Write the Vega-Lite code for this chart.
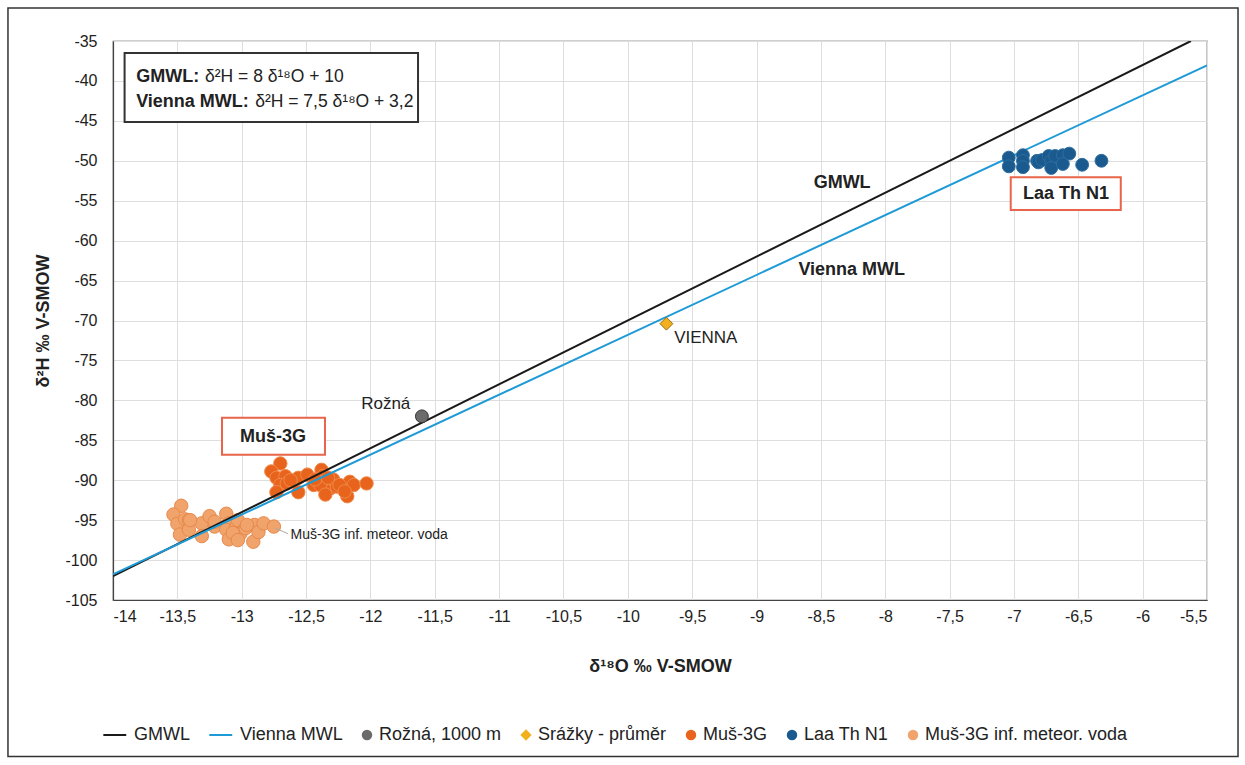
{
  "$schema": "https://vega.github.io/schema/vega-lite/v6.json",
  "width": 1094,
  "height": 559,
  "autosize": {"type": "none"},
  "padding": {"left": 113, "top": 41, "right": 38, "bottom": 165},
  "background": "white",
  "config": {
    "font": "Liberation Sans",
    "view": {"stroke": "#444", "strokeWidth": 1.2},
    "axis": {
      "grid": true, "gridColor": "#dedede", "gridWidth": 1,
      "domainColor": "#444", "domainWidth": 1.2, "ticks": false,
      "labelFont": "Liberation Sans", "labelFontSize": 16, "labelColor": "#222",
      "titleFont": "Liberation Sans", "titleFontSize": 18, "titleFontWeight": "bold", "titleColor": "#222"
    }
  },
  "datasets": {
    "pts": [
      {"series": "Muš-3G", "x": -12.70, "y": -87.9},
      {"series": "Muš-3G", "x": -12.77, "y": -88.9},
      {"series": "Muš-3G", "x": -12.73, "y": -89.7},
      {"series": "Muš-3G", "x": -12.66, "y": -89.5},
      {"series": "Muš-3G", "x": -12.70, "y": -90.6},
      {"series": "Muš-3G", "x": -12.73, "y": -91.5},
      {"series": "Muš-3G", "x": -12.65, "y": -90.4},
      {"series": "Muš-3G", "x": -12.56, "y": -89.7},
      {"series": "Muš-3G", "x": -12.56, "y": -91.5},
      {"series": "Muš-3G", "x": -12.49, "y": -89.3},
      {"series": "Muš-3G", "x": -12.44, "y": -90.6},
      {"series": "Muš-3G", "x": -12.38, "y": -88.7},
      {"series": "Muš-3G", "x": -12.37, "y": -89.5},
      {"series": "Muš-3G", "x": -12.34, "y": -90.4},
      {"series": "Muš-3G", "x": -12.31, "y": -91.0},
      {"series": "Muš-3G", "x": -12.29, "y": -89.9},
      {"series": "Muš-3G", "x": -12.26, "y": -90.8},
      {"series": "Muš-3G", "x": -12.18, "y": -92.0},
      {"series": "Muš-3G", "x": -12.16, "y": -90.2},
      {"series": "Muš-3G", "x": -12.13, "y": -90.6},
      {"series": "Muš-3G", "x": -12.03, "y": -90.4},
      {"series": "Muš-3G", "x": -12.39, "y": -90.6},
      {"series": "Muš-3G", "x": -12.43, "y": -89.9},
      {"series": "Muš-3G", "x": -12.24, "y": -90.6},
      {"series": "Muš-3G", "x": -12.33, "y": -89.7},
      {"series": "Muš-3G", "x": -12.35, "y": -91.8},
      {"series": "Muš-3G", "x": -12.20, "y": -91.4},
      {"series": "Muš-3G", "x": -12.62, "y": -90.0},
      {"series": "Muš-3G inf. meteor. voda", "x": -13.47, "y": -93.2},
      {"series": "Muš-3G inf. meteor. voda", "x": -13.53, "y": -94.3},
      {"series": "Muš-3G inf. meteor. voda", "x": -13.50, "y": -95.45},
      {"series": "Muš-3G inf. meteor. voda", "x": -13.48, "y": -96.8},
      {"series": "Muš-3G inf. meteor. voda", "x": -13.44, "y": -94.9},
      {"series": "Muš-3G inf. meteor. voda", "x": -13.41, "y": -95.0},
      {"series": "Muš-3G inf. meteor. voda", "x": -13.41, "y": -96.2},
      {"series": "Muš-3G inf. meteor. voda", "x": -13.31, "y": -95.4},
      {"series": "Muš-3G inf. meteor. voda", "x": -13.31, "y": -97.0},
      {"series": "Muš-3G inf. meteor. voda", "x": -13.25, "y": -94.5},
      {"series": "Muš-3G inf. meteor. voda", "x": -13.21, "y": -95.8},
      {"series": "Muš-3G inf. meteor. voda", "x": -13.21, "y": -95.2},
      {"series": "Muš-3G inf. meteor. voda", "x": -13.12, "y": -94.2},
      {"series": "Muš-3G inf. meteor. voda", "x": -13.10, "y": -95.4},
      {"series": "Muš-3G inf. meteor. voda", "x": -13.12, "y": -96.2},
      {"series": "Muš-3G inf. meteor. voda", "x": -13.10, "y": -97.4},
      {"series": "Muš-3G inf. meteor. voda", "x": -13.04, "y": -95.8},
      {"series": "Muš-3G inf. meteor. voda", "x": -13.03, "y": -95.0},
      {"series": "Muš-3G inf. meteor. voda", "x": -13.01, "y": -96.7},
      {"series": "Muš-3G inf. meteor. voda", "x": -12.97, "y": -96.0},
      {"series": "Muš-3G inf. meteor. voda", "x": -12.91, "y": -97.7},
      {"series": "Muš-3G inf. meteor. voda", "x": -12.90, "y": -95.6},
      {"series": "Muš-3G inf. meteor. voda", "x": -12.87, "y": -96.5},
      {"series": "Muš-3G inf. meteor. voda", "x": -12.83, "y": -95.4},
      {"series": "Muš-3G inf. meteor. voda", "x": -12.75, "y": -95.8},
      {"series": "Muš-3G inf. meteor. voda", "x": -13.40, "y": -95.0},
      {"series": "Muš-3G inf. meteor. voda", "x": -12.96, "y": -95.6},
      {"series": "Muš-3G inf. meteor. voda", "x": -13.07, "y": -96.6},
      {"series": "Muš-3G inf. meteor. voda", "x": -13.03, "y": -97.5}
    ],
    "pts2": [
      {"series": "Laa Th N1", "x": -7.04, "y": -49.6},
      {"series": "Laa Th N1", "x": -7.04, "y": -50.7},
      {"series": "Laa Th N1", "x": -6.93, "y": -49.3},
      {"series": "Laa Th N1", "x": -6.93, "y": -50.0},
      {"series": "Laa Th N1", "x": -6.93, "y": -50.8},
      {"series": "Laa Th N1", "x": -6.82, "y": -50.0},
      {"series": "Laa Th N1", "x": -6.81, "y": -50.2},
      {"series": "Laa Th N1", "x": -6.78, "y": -49.9},
      {"series": "Laa Th N1", "x": -6.73, "y": -49.4},
      {"series": "Laa Th N1", "x": -6.71, "y": -50.0},
      {"series": "Laa Th N1", "x": -6.71, "y": -50.9},
      {"series": "Laa Th N1", "x": -6.68, "y": -49.4},
      {"series": "Laa Th N1", "x": -6.62, "y": -49.3},
      {"series": "Laa Th N1", "x": -6.62, "y": -50.4},
      {"series": "Laa Th N1", "x": -6.57, "y": -49.1},
      {"series": "Laa Th N1", "x": -6.47, "y": -50.5},
      {"series": "Laa Th N1", "x": -6.32, "y": -50.0},
      {"series": "Rožná, 1000 m", "x": -11.6, "y": -82.0},
      {"series": "Srážky - průměr", "x": -9.7, "y": -70.4}
    ],
    "lines": [
      {"series": "GMWL", "x": -14, "y": -102},
      {"series": "GMWL", "x": -5.625, "y": -35},
      {"series": "Vienna MWL", "x": -14, "y": -101.8},
      {"series": "Vienna MWL", "x": -5.5, "y": -38.05}
    ],
    "boxes": [
      {"name": "eq", "x": -13.91, "x2": -11.63, "y": -36.5, "y2": -45.14, "stroke": "#333"},
      {"name": "mus", "x": -13.153, "x2": -12.353, "y": -82.18, "y2": -86.81, "stroke": "#e8644a"},
      {"name": "laa", "x": -7.025, "x2": -6.17, "y": -52.06, "y2": -56.15, "stroke": "#e8644a"}
    ]
  },
  "encoding": {
    "x": {"field": "x", "type": "quantitative",
      "scale": {"domain": [-14, -5.5], "nice": false, "zero": false},
      "axis": {"title": "δ¹⁸O ‰  V-SMOW", "values": [-14, -13.5, -13, -12.5, -12, -11.5, -11, -10.5, -10, -9.5, -9, -8.5, -8, -7.5, -7, -6.5, -6, -5.5],
        "labelExpr": "replace('' + datum.value, '.', ',')", "labelPadding": 8, "titlePadding": 33}},
    "y": {"field": "y", "type": "quantitative",
      "scale": {"domain": [-105, -35], "nice": false, "zero": false},
      "axis": {"title": "δ²H ‰  V-SMOW", "values": [-105, -100, -95, -90, -85, -80, -75, -70, -65, -60, -55, -50, -45, -40, -35],
        "labelExpr": "'' + datum.value", "labelPadding": 16, "titlePadding": 12}}
  },
  "layer": [
    {
      "data": {"values": [{"x": -14.816, "x2": -5.259, "y": -30.87, "y2": -124.6}]},
      "mark": {"type": "rect", "fill": null, "fillOpacity": 0, "stroke": "#333", "strokeWidth": 1.5, "clip": false},
      "encoding": {"x2": {"field": "x2"}, "y2": {"field": "y2"}}
    },
    {
      "data": {"name": "boxes"},
      "mark": {"type": "rect", "fill": "white", "strokeWidth": 2, "clip": false},
      "encoding": {
        "x2": {"field": "x2"},
        "y2": {"field": "y2"},
        "stroke": {"field": "stroke", "type": "nominal", "scale": null}
      }
    },
    {
      "data": {"name": "pts"},
      "mark": {"type": "point", "filled": true, "opacity": 1, "strokeWidth": 1},
      "encoding": {
        "color": {"field": "series", "type": "nominal",
          "scale": {"domain": ["GMWL", "Vienna MWL", "Rožná, 1000 m", "Srážky - průměr", "Muš-3G", "Laa Th N1", "Muš-3G inf. meteor. voda"],
            "range": ["#1a1a1a", "#1e9ad6", "#6b6b6b", "#f2b01e", "#e8641c", "#1b5a8e", "#f0a46c"]},
          "legend": {"title": null, "orient": "bottom", "direction": "horizontal", "offset": 51,
            "labelFont": "Liberation Sans", "labelFontSize": 18, "labelColor": "#222", "labelLimit": 0,
            "symbolSize": 72, "symbolStrokeWidth": 2, "labelOffset": 3, "columnPadding": 15,
            "encode": {"symbols": {"update": {
              "stroke": {"scale": "color", "field": "value"},
              "strokeWidth": {"value": 2}
            }}}}},
        "shape": {"field": "series", "type": "nominal",
          "scale": {"domain": ["GMWL", "Vienna MWL", "Rožná, 1000 m", "Srážky - průměr", "Muš-3G", "Laa Th N1", "Muš-3G inf. meteor. voda"],
            "range": ["M-4.4,0H1", "M-4.4,0H1", "circle", "diamond", "circle", "circle", "circle"]}},
        "stroke": {"field": "series", "type": "nominal", "legend": null,
          "scale": {"domain": ["Muš-3G", "Muš-3G inf. meteor. voda", "Laa Th N1", "Rožná, 1000 m", "Srážky - průměr"],
            "range": ["#f08a4a", "#e8884a", "#2c6ea0", "#333333", "#9a6a10"]}},
        "size": {"value": 180}
      }
    },
    {
      "data": {"values": [{"x": -12.74, "y": -96.0, "x2": -12.64, "y2": -96.7}]},
      "mark": {"type": "rule", "color": "#aaaaaa", "strokeWidth": 1},
      "encoding": {"x2": {"field": "x2"}, "y2": {"field": "y2"}}
    },
    {
      "data": {"name": "lines"},
      "mark": {"type": "line", "strokeWidth": 2, "clip": true},
      "encoding": {
        "color": {"field": "series", "type": "nominal",
          "scale": {"domain": ["GMWL", "Vienna MWL", "Rožná, 1000 m", "Srážky - průměr", "Muš-3G", "Laa Th N1", "Muš-3G inf. meteor. voda"],
            "range": ["#1a1a1a", "#1e9ad6", "#6b6b6b", "#f2b01e", "#e8641c", "#1b5a8e", "#f0a46c"]}},
        "detail": {"field": "series"}
      }
    },
    {
      "data": {"name": "pts2"},
      "mark": {"type": "point", "filled": true, "opacity": 1, "strokeWidth": 1},
      "encoding": {
        "color": {"field": "series", "type": "nominal",
          "scale": {"domain": ["GMWL", "Vienna MWL", "Rožná, 1000 m", "Srážky - průměr", "Muš-3G", "Laa Th N1", "Muš-3G inf. meteor. voda"],
            "range": ["#1a1a1a", "#1e9ad6", "#6b6b6b", "#f2b01e", "#e8641c", "#1b5a8e", "#f0a46c"]}},
        "shape": {"field": "series", "type": "nominal",
          "scale": {"domain": ["GMWL", "Vienna MWL", "Rožná, 1000 m", "Srážky - průměr", "Muš-3G", "Laa Th N1", "Muš-3G inf. meteor. voda"],
            "range": ["M-4.4,0H1", "M-4.4,0H1", "circle", "diamond", "circle", "circle", "circle"]}},
        "stroke": {"field": "series", "type": "nominal", "legend": null},
        "size": {"value": 165}
      }
    },
    {
      "data": {"values": [
        {"text": "GMWL:", "x": -13.82, "y": -39.45},
        {"text": "Vienna MWL:", "x": -13.82, "y": -42.6}
      ]},
      "mark": {"type": "text", "align": "left", "baseline": "middle", "fontWeight": "bold", "fontSize": 18, "color": "#222", "clip": false},
      "encoding": {"text": {"field": "text"}}
    },
    {
      "data": {"values": [
        {"text": "δ²H = 8 δ¹⁸O + 10", "x": -13.285, "y": -39.45},
        {"text": "δ²H = 7,5 δ¹⁸O + 3,2", "x": -12.895, "y": -42.6}
      ]},
      "mark": {"type": "text", "align": "left", "baseline": "middle", "fontSize": 17.5, "color": "#222", "clip": false},
      "encoding": {"text": {"field": "text"}}
    },
    {
      "data": {"values": [
        {"text": "GMWL", "x": -8.335, "y": -52.77},
        {"text": "Vienna MWL", "x": -8.26, "y": -63.66},
        {"text": "Muš-3G", "x": -12.757, "y": -84.56},
        {"text": "Laa Th N1", "x": -6.595, "y": -54.15}
      ]},
      "mark": {"type": "text", "align": "center", "baseline": "middle", "fontWeight": "bold", "fontSize": 18, "color": "#222", "clip": false},
      "encoding": {"text": {"field": "text"}}
    },
    {
      "data": {"values": [
        {"text": "VIENNA", "x": -9.64, "y": -72.2, "s": 17},
        {"text": "Muš-3G inf. meteor. voda", "x": -12.62, "y": -96.8, "s": 14}
      ]},
      "mark": {"type": "text", "align": "left", "baseline": "middle", "color": "#222", "clip": false},
      "encoding": {"text": {"field": "text"}, "size": {"field": "s", "type": "quantitative", "scale": null}}
    },
    {
      "data": {"values": [
        {"text": "Rožná", "x": -11.69, "y": -80.4}
      ]},
      "mark": {"type": "text", "align": "right", "baseline": "middle", "fontSize": 17, "color": "#222", "clip": false},
      "encoding": {"text": {"field": "text"}}
    }
  ]
}
